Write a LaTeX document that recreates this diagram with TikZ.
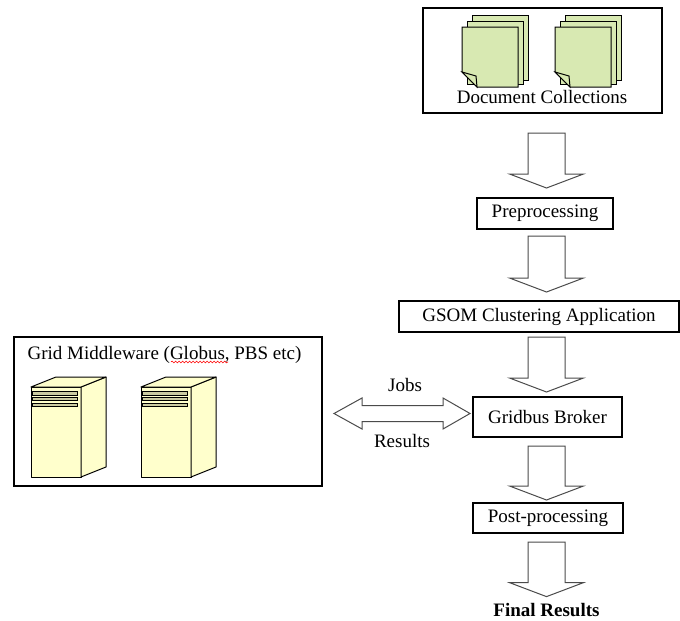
\documentclass[tikz,border=0pt]{standalone}
\usepackage{fontspec}
\setmainfont{Liberation Serif}
\usepackage{tikz}
\usetikzlibrary{calc}
\usetikzlibrary{decorations.pathmorphing}
\definecolor{pagegreen}{RGB}{216,233,178}
\definecolor{serveryellow}{RGB}{255,255,204}
\definecolor{ventgray}{RGB}{204,204,163}
\definecolor{arrowgray}{RGB}{75,75,75}
\tikzset{>=latex}
\tikzset{
  boxnode/.style={draw, line width=1.1pt, inner sep=0pt, outer sep=0pt},
  blockarrow/.style={draw=arrowgray, fill=white, line width=1pt, line join=miter},
  page/.style={draw, fill=pagegreen, line width=1pt},
  servface/.style={draw, fill=serveryellow, line width=1pt, line join=round},
  vent/.style={draw, fill=ventgray, line width=0.8pt},
}
\newcommand{\blockdown}[2]{%
  \draw[blockarrow] let \p1=(#1), \p2=(#2) in
    (\x1-18.5pt,\y1) -- (\x1+18.5pt,\y1) -- (\x1+18.5pt,\y2+14pt)
    -- (\x1+37pt,\y2+14pt) -- (\x1,\y2) -- (\x1-37pt,\y2+14pt)
    -- (\x1-18.5pt,\y2+14pt) -- cycle;}
\newcommand{\blockboth}[2]{%
  \draw[blockarrow] let \p1=(#1), \p2=(#2) in
    (\p1) -- (\x1+28pt,\y1+15.5pt) -- (\x1+28pt,\y1+8pt) -- (\x2-27pt,\y1+8pt)
    -- (\x2-27pt,\y1+15.5pt) -- (\p2) -- (\x2-27pt,\y1-15.5pt) -- (\x2-27pt,\y1-8pt)
    -- (\x1+28pt,\y1-8pt) -- (\x1+28pt,\y1-15.5pt) -- cycle;}

\begin{document}
\begin{tikzpicture}[x=1pt, y=-1pt, font=\fontsize{19}{22}\selectfont]
      \useasboundingbox (0,0) rectangle (680,621);
      \coordinate (col) at (546.5,0);
      \coordinate (lane) at (0,413.5);
      % document collections
      \node[boxnode, minimum width=239pt, minimum height=105pt] (docs) at (542.5,60.5) {};
      \filldraw[page] (472,15) rectangle (528,80);
      \filldraw[page] (467,21) rectangle (523,84);
      \filldraw[page] (462,27) -- (518,27) -- (518,87) -- (477,87) -- (462,72) -- cycle;
      \filldraw[page] (462,72) -- (476,76) -- (477,87) -- cycle;
      \filldraw[page] (565,15) rectangle (621,80);
      \filldraw[page] (560,21) rectangle (616,84);
      \filldraw[page] (555,27) -- (611,27) -- (611,87) -- (570,87) -- (555,72) -- cycle;
      \filldraw[page] (555,72) -- (569,76) -- (570,87) -- cycle;
      \node[anchor=base] (doclabel) at (542,103) {Document Collections};
      % pipeline
      \node[boxnode, minimum width=136pt, minimum height=31pt] (pre) at (545,213.5) {Preprocessing};
      \node[boxnode, minimum width=280pt, minimum height=31pt] (gsom) at (539,316.5) {GSOM Clustering Application};
      \node[boxnode, minimum width=149pt, minimum height=40pt] (broker) at (547.5,417) {Gridbus Broker};
      \node[boxnode, minimum width=150pt, minimum height=30pt] (post) at (548,518) {Post-processing};
      \node[anchor=base, inner sep=1pt, font=\bfseries\fontsize{19}{22}\selectfont] (final) at (546.5,616) {Final Results};
      \blockdown{$(docs.south -| col)+(0,20)$}{$(pre.north -| col)+(0,-10)$}
      \blockdown{$(pre.south -| col)+(0,7)$}{$(gsom.north -| col)+(0,-9)$}
      \blockdown{$(gsom.south -| col)+(0,5)$}{$(broker.north -| col)+(0,-5)$}
      \blockdown{$(broker.south -| col)+(0,9)$}{$(post.north -| col)+(0,-3)$}
      \blockdown{$(post.south -| col)+(0,9)$}{$(final.north -| col)+(0,-5)$}
      % grid middleware
      \node[boxnode, minimum width=308pt, minimum height=149pt] (mw) at (168,411.5) {};
      \node[anchor=base] (mwlabel) at (164.5,359) {Grid Middleware (Globus, PBS etc)};
      \draw[red, line width=0.6pt, decorate, decoration={snake, amplitude=0.9pt, segment length=3.5pt}] (171,362) -- (228,362);
      \filldraw[servface] (31,387) -- (81,387) -- (81,477) -- (31,477) -- cycle;
      \filldraw[servface] (81,387) -- (106,377) -- (106,467) -- (81,477) -- cycle;
      \filldraw[servface] (31,387) -- (56,377) -- (106,377) -- (81,387) -- cycle;
      \filldraw[vent] (32,391.5) rectangle (77,395);
      \filldraw[vent] (32,397) rectangle (77,400.5);
      \filldraw[vent] (32,403) rectangle (77,406.5);
      \filldraw[servface] (141,387) -- (191,387) -- (191,477) -- (141,477) -- cycle;
      \filldraw[servface] (191,387) -- (216,377) -- (216,467) -- (191,477) -- cycle;
      \filldraw[servface] (141,387) -- (166,377) -- (216,377) -- (191,387) -- cycle;
      \filldraw[vent] (142,391.5) rectangle (187,395);
      \filldraw[vent] (142,397) rectangle (187,400.5);
      \filldraw[vent] (142,403) rectangle (187,406.5);
      % jobs and results
      \blockboth{$(mw.east |- lane)+(12,0)$}{$(broker.west |- lane)+(-3,0)$}
      \node[anchor=base] (jobs) at (405,391) {Jobs};
      \node[anchor=base] (results) at (402,447) {Results};
    \end{tikzpicture}
\end{document}
